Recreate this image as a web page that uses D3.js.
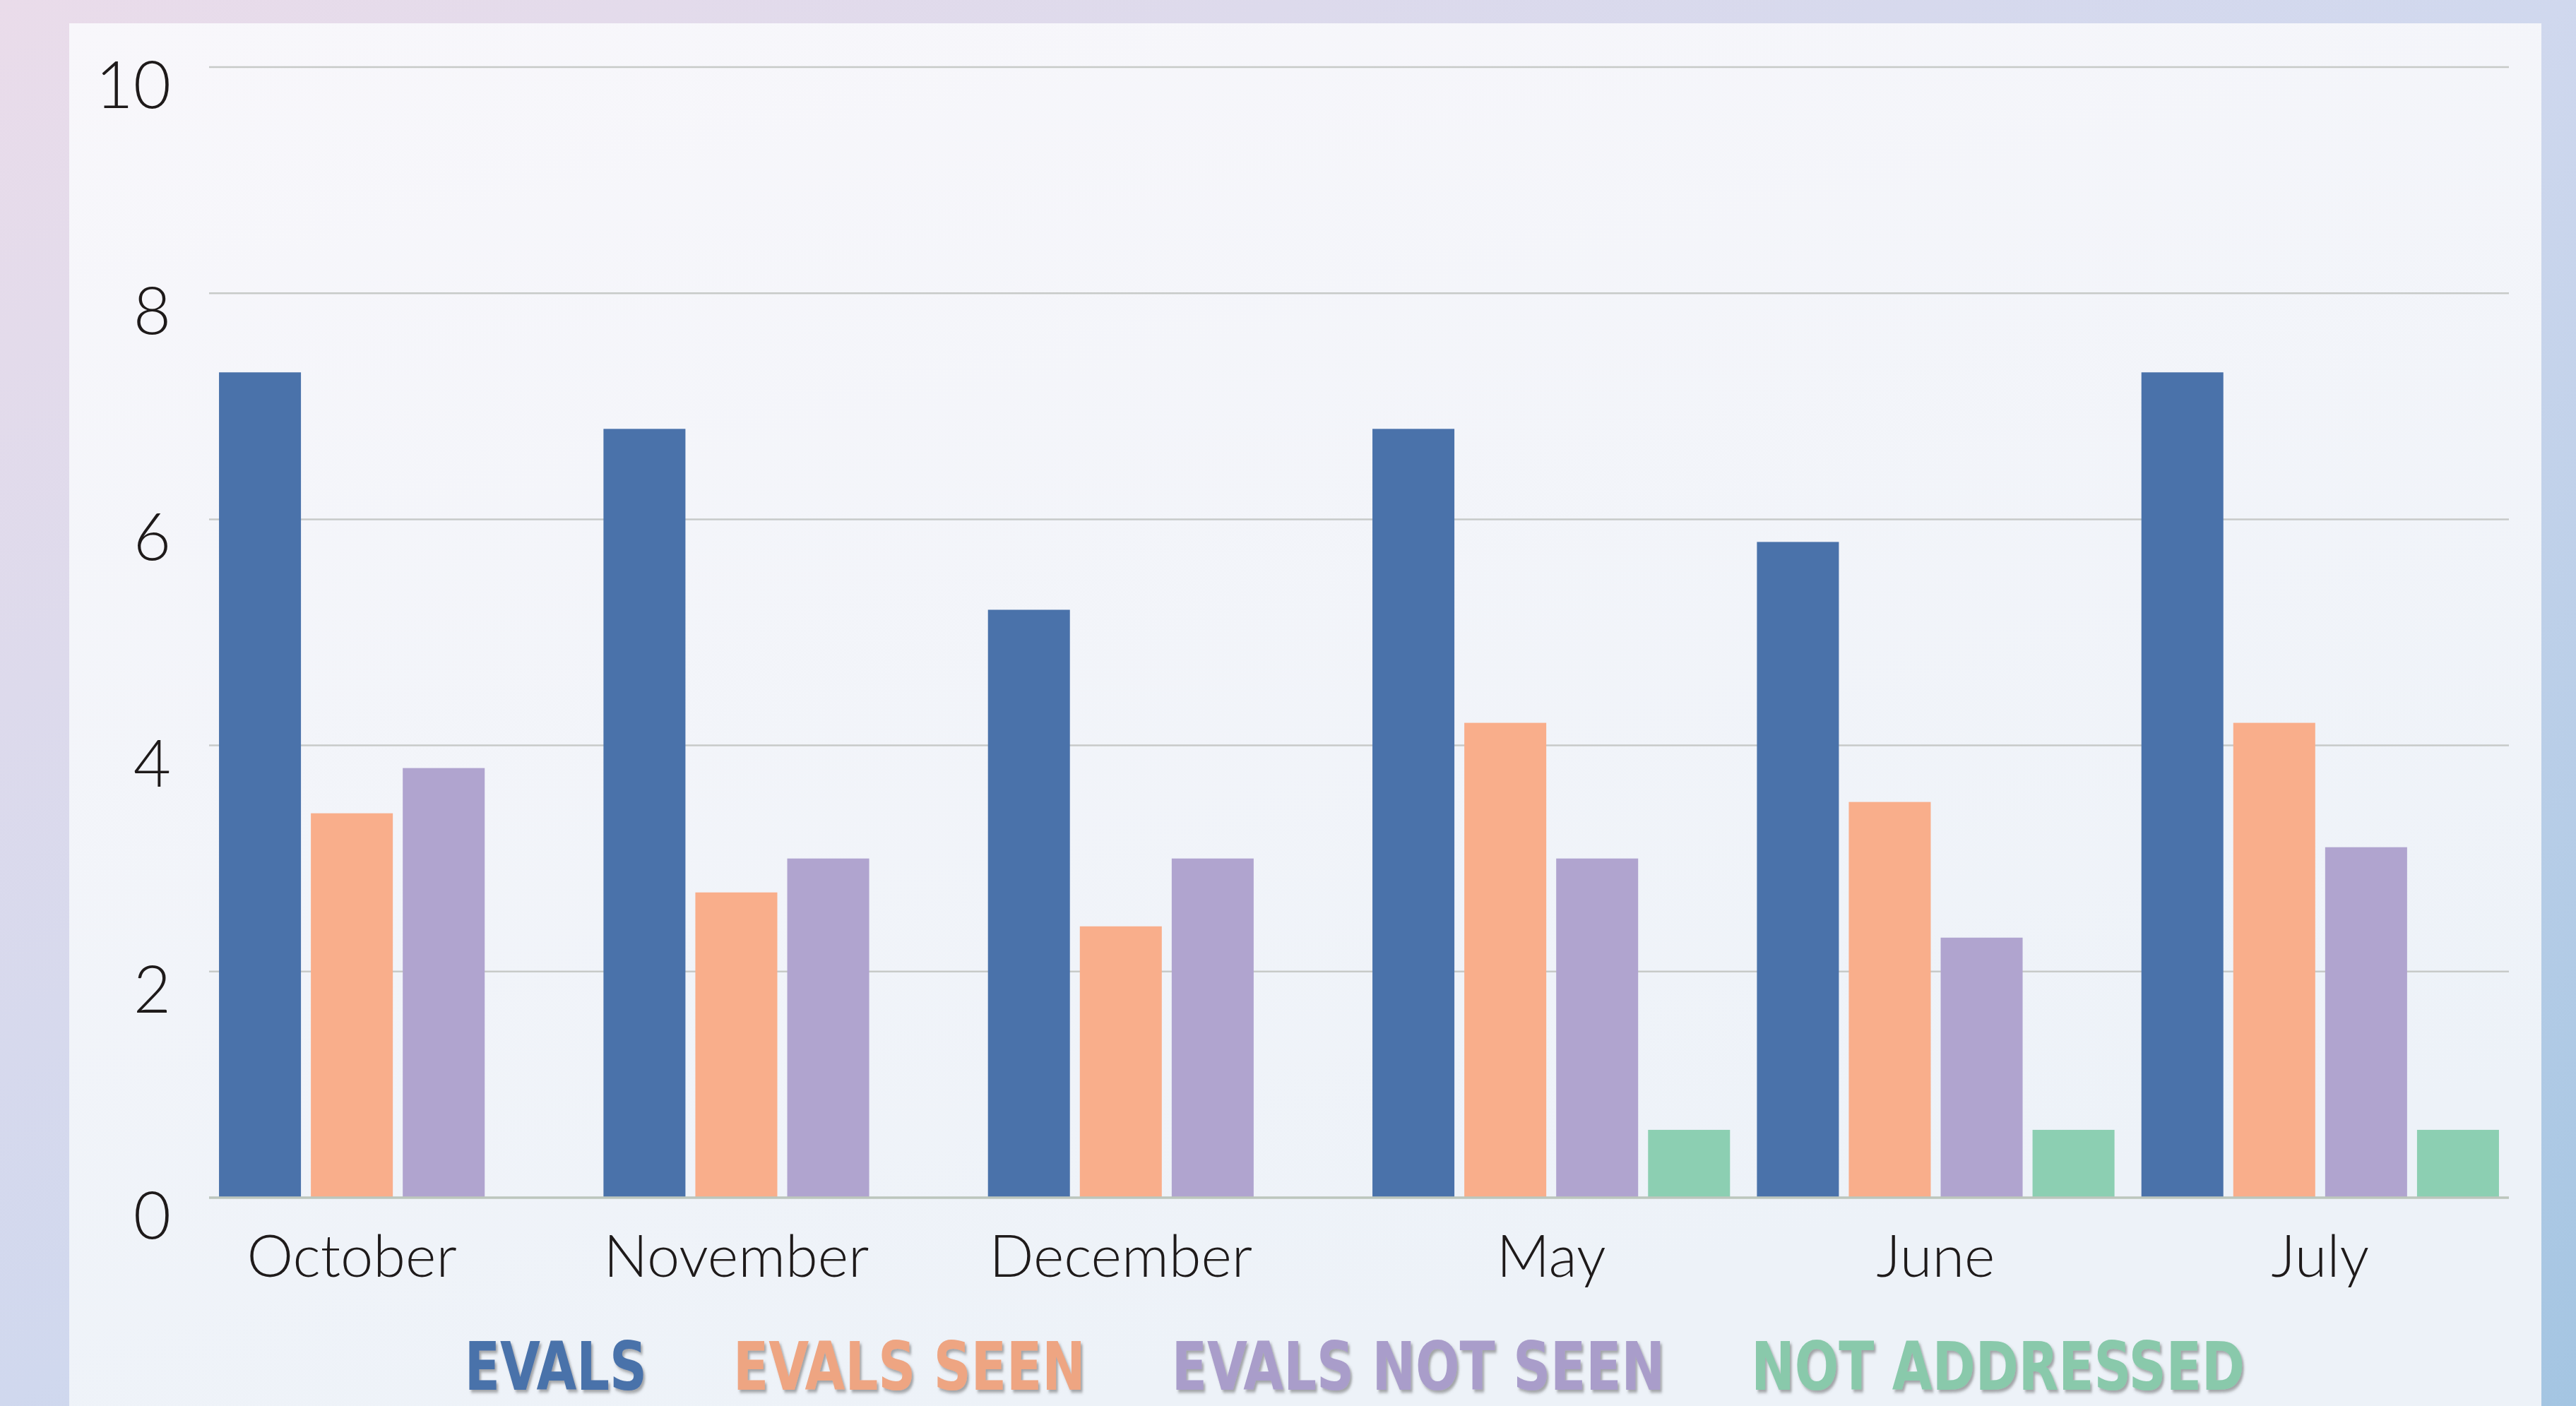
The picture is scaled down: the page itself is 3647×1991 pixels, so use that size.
<!DOCTYPE html>
<html>
<head>
<meta charset="utf-8">
<script src="https://cdn.jsdelivr.net/npm/d3@7"></script>
<style>
  html, body { margin: 0; padding: 0; overflow: hidden; }
  svg { display: block; }
</style>
</head>
<body>
<div id="chart"></div>
<script>
// months shown on the x axis
const months = ['October', 'November', 'December', 'May', 'June', 'July'];
// series names (legend)
const seriesNames = ['EVALS', 'EVALS SEEN', 'EVALS NOT SEEN', 'NOT ADDRESSED'];
// values per series, one per month (null = no bar)
const evals        = [7.3, 6.8, 5.2, 6.8, 5.8, 7.3];
const evalsSeen    = [3.4, 2.7, 2.4, 4.2, 3.5, 4.2];
const evalsNotSeen = [3.8, 3.0, 3.0, 3.0, 2.3, 3.1];
const notAddressed = [null, null, null, 0.6, 0.6, 0.6];
const yTicks = [0, 2, 4, 6, 8, 10];

const barColors = ['#4a72aa', '#f9ae8b', '#b0a4cf', '#8ccfb2'];
const legendColors = ['#4a72aa', '#eea582', '#a99dca', '#89c9ab'];

const width = 3647, height = 1991;

const seriesValues = [evals, evalsSeen, evalsNotSeen, notAddressed];
const data = months.map((m, i) => ({
    month: m,
    values: seriesNames.map((s, j) => ({ key: s, idx: j, value: seriesValues[j][i] }))
}));

const svg = d3.select('#chart')
    .append('svg')
    .attr('width', width)
    .attr('height', height);

const defs = svg.append('defs');

const bg = defs.append('linearGradient')
    .attr('id', 'bg')
    .attr('x1', 0).attr('y1', 0).attr('x2', 1).attr('y2', 1);
bg.append('stop').attr('offset', '0%').attr('stop-color', '#eadcea');
bg.append('stop').attr('offset', '50%').attr('stop-color', '#d0d8ee');
bg.append('stop').attr('offset', '100%').attr('stop-color', '#a4c5e2');

const panel = defs.append('linearGradient')
    .attr('id', 'panel')
    .attr('x1', 0).attr('y1', 0).attr('x2', 0.4).attr('y2', 1);
panel.append('stop').attr('offset', '0%').attr('stop-color', '#f8f7fb');
panel.append('stop').attr('offset', '100%').attr('stop-color', '#edf2f8');

const shadow = defs.append('filter')
    .attr('id', 'shadow')
    .attr('x', '-10%').attr('y', '-20%')
    .attr('width', '120%').attr('height', '150%');
shadow.append('feDropShadow')
    .attr('dx', 3).attr('dy', 4)
    .attr('stdDeviation', 2)
    .attr('flood-color', '#555')
    .attr('flood-opacity', 0.5);

svg.append('rect')
    .attr('width', width).attr('height', height)
    .attr('fill', 'url(#bg)');

svg.append('rect')
    .attr('x', 98).attr('y', 33)
    .attr('width', 3500).attr('height', height - 33)
    .attr('fill', 'url(#panel)');

// scales
const plotLeft = 296, plotRight = 3552;
const y = d3.scaleLinear().domain([0, 10]).range([1696, 95]);

const x0 = d3.scaleBand()
    .domain(months)
    .range([291, 3557])
    .paddingInner(0.07)
    .paddingOuter(0.035);

const x1 = d3.scaleBand()
    .domain(seriesNames)
    .range([0, x0.bandwidth()])
    .paddingInner(0.108)
    .paddingOuter(0);

// gridlines
svg.append('g')
    .selectAll('line')
    .data(yTicks.filter(d => d > 0))
    .enter().append('line')
    .attr('x1', plotLeft).attr('x2', plotRight)
    .attr('y1', d => y(d)).attr('y2', d => y(d))
    .attr('stroke', '#c7cac8')
    .attr('stroke-width', 2.5);

// y tick labels
svg.append('g')
    .selectAll('text')
    .data(yTicks)
    .enter().append('text')
    .attr('x', 242)
    .attr('y', d => y(d) + 58)
    .attr('text-anchor', 'end')
    .attr('font-family', 'Lato, "Open Sans", sans-serif')
    .attr('font-weight', 300)
    .attr('font-size', 92)
    .attr('fill', '#1e1a1a')
    .text(d => d);

// bars
const groups = svg.append('g')
    .selectAll('g')
    .data(data)
    .enter().append('g')
    .attr('transform', d => `translate(${x0(d.month)},0)`);

groups.selectAll('rect')
    .data(d => d.values.filter(v => v.value != null))
    .enter().append('rect')
    .attr('x', d => x1(d.key))
    .attr('width', x1.bandwidth())
    .attr('y', d => y(d.value))
    .attr('height', d => y(0) - y(d.value))
    .attr('fill', d => barColors[d.idx]);

// baseline
svg.append('line')
    .attr('x1', plotLeft).attr('x2', plotRight)
    .attr('y1', y(0)).attr('y2', y(0))
    .attr('stroke', '#bcc6bd')
    .attr('stroke-width', 3.5);

// month labels, centred under the bars that are present
groups.append('text')
    .attr('x', d => {
        const present = d.values.filter(v => v.value != null);
        const first = x1(present[0].key);
        const last = x1(present[present.length - 1].key) + x1.bandwidth();
        return (first + last) / 2;
    })
    .attr('y', 1808)
    .attr('text-anchor', 'middle')
    .attr('font-family', 'Lato, "Open Sans", sans-serif')
    .attr('font-weight', 300)
    .attr('font-size', 83)
    .attr('fill', '#1e1a1a')
    .text(d => d.month);

// legend (condensed bold text squeezed horizontally)
const squeeze = 0.86;
const legend = svg.append('g');
const items = legend.selectAll('text')
    .data(seriesNames)
    .enter().append('text')
    .attr('x', 0)
    .attr('y', 1968)
    .attr('font-family', '"Liberation Sans Narrow", "DejaVu Sans Condensed", sans-serif')
    .attr('font-stretch', 'condensed')
    .attr('font-weight', 'bold')
    .attr('font-size', 95)
    .attr('fill', (d, i) => legendColors[i])
    .attr('filter', 'url(#shadow)')
    .text(d => d);

const gap = 122;
const widths = [];
items.each(function() { widths.push(this.getComputedTextLength() * squeeze); });
const total = d3.sum(widths) + gap * (widths.length - 1);
let cx = 1918 - total / 2;
items.attr('transform', (d, i) => {
    const pos = cx;
    cx += widths[i] + gap;
    return `translate(${pos},0) scale(${squeeze},1)`;
});
</script>
</body>
</html>
